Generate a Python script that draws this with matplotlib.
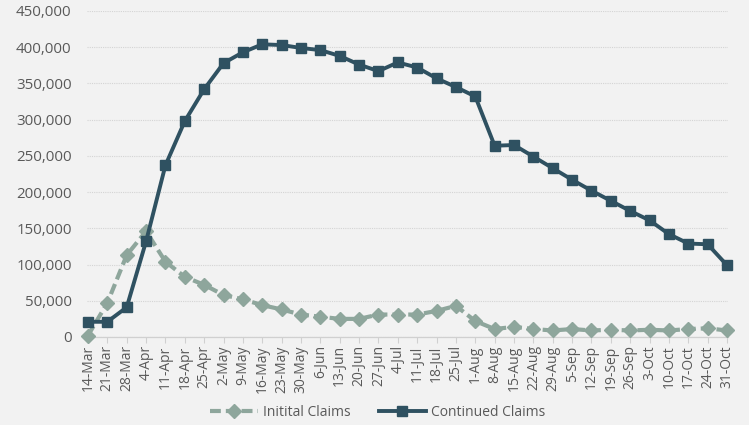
import matplotlib
matplotlib.use("Agg")
import matplotlib.pyplot as plt
from matplotlib.ticker import FuncFormatter

weeks = ["14-Mar", "21-Mar", "28-Mar", "4-Apr", "11-Apr", "18-Apr", "25-Apr",
         "2-May", "9-May", "16-May", "23-May", "30-May", "6-Jun", "13-Jun",
         "20-Jun", "27-Jun", "4-Jul", "11-Jul", "18-Jul", "25-Jul", "1-Aug",
         "8-Aug", "15-Aug", "22-Aug", "29-Aug", "5-Sep", "12-Sep", "19-Sep",
         "26-Sep", "3-Oct", "10-Oct", "17-Oct", "24-Oct", "31-Oct"]

initial_claims = [2000, 47000, 113000, 146000, 104000, 83000, 72000,
                  58000, 52000, 44000, 38000, 31000, 28000, 25000,
                  25000, 31000, 31000, 31000, 36000, 43000, 22000,
                  11000, 14000, 11000, 9000, 11000, 9000, 10000,
                  9000, 10000, 9000, 11000, 12000, 9000]

continued_claims = [21000, 21000, 41000, 132000, 237000, 298000, 342000,
                    378000, 393000, 404000, 403000, 399000, 396000, 388000,
                    376000, 367000, 379000, 372000, 357000, 345000, 332000,
                    264000, 265000, 249000, 233000, 217000, 202000, 188000,
                    174000, 161000, 142000, 129000, 128000, 99000]

y_ticks = [0, 50000, 100000, 150000, 200000, 250000, 300000, 350000, 400000, 450000]

bg = "#f2f2f2"
c_init = "#8ea69c"
c_cont = "#2f5161"
txt = "#595959"

fig = plt.figure(figsize=(7.49, 4.25), dpi=100, facecolor=bg)
ax = fig.add_axes([87/749, 1-337/425, (728-87)/749, (337-11)/425])
ax.set_facecolor(bg)

x = list(range(len(weeks)))
ax.plot(x, initial_claims, color=c_init, lw=3.0, ls=(0, (2.6, 1.2)),
        marker="D", ms=7.5, mec=c_init, mfc=c_init, label="Initital Claims",
        zorder=3, clip_on=False)
ax.plot(x, continued_claims, color=c_cont, lw=2.8, marker="s", ms=6.8,
        mec=c_cont, mfc=c_cont, label="Continued Claims", zorder=4, clip_on=False)

ax.set_ylim(0, 450000)
ax.set_xlim(-0.05, len(weeks)-1+0.05)
ax.set_yticks(y_ticks)
ax.yaxis.set_major_formatter(FuncFormatter(lambda v, p: f"{int(v):,}"))
ax.set_xticks(x)
ax.set_xticklabels(weeks, rotation=90)

ax.grid(axis="y", color="#d4d4d4", lw=0.8, ls=(0, (1, 1)))
ax.set_axisbelow(True)
for s in ["top", "right", "left"]:
    ax.spines[s].set_visible(False)
ax.spines["bottom"].set_color("#d0d0d0")
ax.spines["bottom"].set_linewidth(0.9)

ax.tick_params(axis="y", length=0, pad=11, labelsize=10.8, labelcolor=txt)
ax.tick_params(axis="x", length=4, color="#d0d0d0", pad=2, labelsize=10,
               labelcolor=txt)

for t in ax.get_yticklabels() + ax.get_xticklabels():
    t.set_fontfamily("Open Sans")

leg = fig.legend(loc="center", bbox_to_anchor=(378/749, 1-412/425), ncol=2,
                 frameon=False, handlelength=3.4, columnspacing=2.0,
                 handletextpad=0.4, prop={"family": "Open Sans", "size": 10})
for t in leg.get_texts():
    t.set_color(txt)

fig.savefig("out.png", dpi=100, facecolor=bg)
